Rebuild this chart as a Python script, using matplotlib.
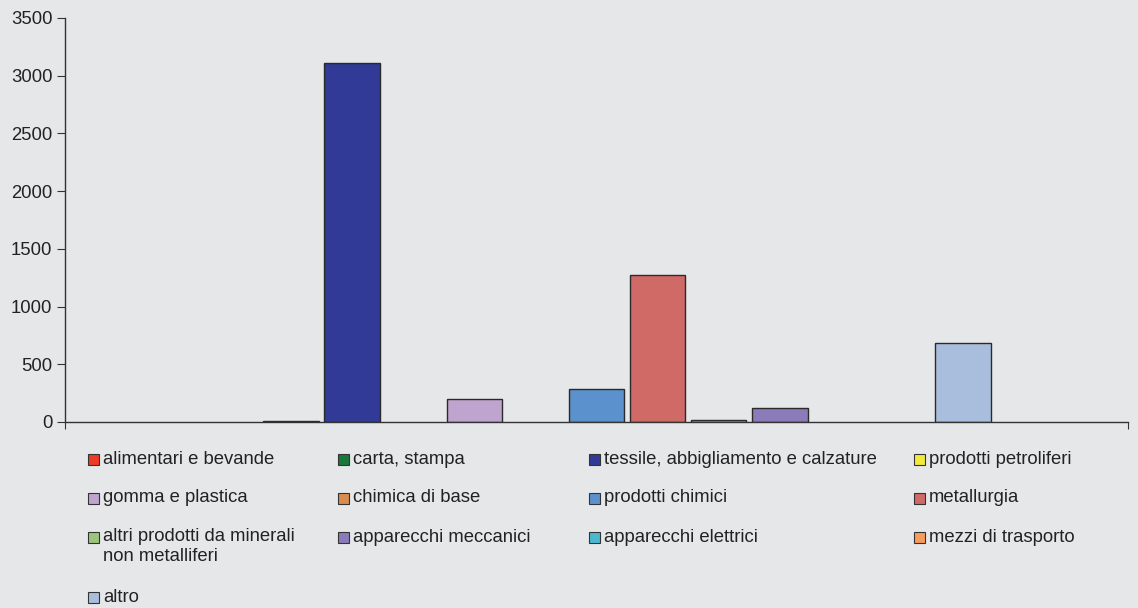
import matplotlib
matplotlib.use("Agg")
import matplotlib.pyplot as plt
from matplotlib.patches import Rectangle

plt.rcParams['font.family'] = ['Liberation Sans', 'DejaVu Sans']

# Data
categories = ["alimentari e bevande", "carta, stampa",
              "tessile, abbigliamento e calzature", "prodotti petroliferi",
              "gomma e plastica", "chimica di base", "prodotti chimici",
              "metallurgia", "altri prodotti da minerali\nnon metalliferi",
              "apparecchi meccanici", "apparecchi elettrici",
              "mezzi di trasporto", "altro"]
values = [0, 8, 3110, 0, 200, 0, 286, 1275, 17, 117, 0, 0, 687]
colors = ["#EE3A28", "#19773A", "#313A96", "#F2EA3A", "#BEA4CE", "#D98C52",
          "#5B92CD", "#D06A66", "#9CC47C", "#8B7BB8", "#4BB8D0", "#F89C5A",
          "#A9BEDD"]
yticks = [0, 500, 1000, 1500, 2000, 2500, 3000, 3500]

BG = "#E6E7E9"
W, H = 1138, 608
fig = plt.figure(figsize=(W/100, H/100), dpi=100, facecolor=BG)
ax = fig.add_axes([65/W, (H-422)/H, (1128-65)/W, (422-18)/H])
ax.set_facecolor(BG)

xs = list(range(len(values)))
# no outline for empty bars
lws = [1.0 if v > 0 else 0 for v in values]
ax.bar(xs, values, width=0.91, color=colors, edgecolor="#2a2a2a", linewidth=lws)

ax.set_xlim(-2.7, 14.7)
ax.set_ylim(0, 3500)
ax.set_yticks(yticks)
ax.set_xticks([-2.7, 14.7])
ax.set_xticklabels([])
for s in ["top", "right"]:
    ax.spines[s].set_visible(False)
for s in ["left", "bottom"]:
    ax.spines[s].set_color("#333333")
    ax.spines[s].set_linewidth(1.0)
ax.tick_params(axis="y", direction="out", length=6, color="#333333",
               labelsize=13.3, labelcolor="#222222", pad=3)
ax.tick_params(axis="x", direction="out", length=5, color="#333333")

# Legend drawn in rows of 4
col_x = [88, 338, 589, 914]
row_y = [459, 498, 537, 597]
sq = 11
for i, (lab, c) in enumerate(zip(categories, colors)):
    r, k = divmod(i, 4)
    x0, yc = col_x[k], row_y[r]
    fig.add_artist(Rectangle((x0/W, (H-yc-sq/2)/H), sq/W, sq/H,
                             transform=fig.transFigure, facecolor=c,
                             edgecolor="#333333", linewidth=0.8))
    if "\n" in lab:
        fig.text((x0+sq+4)/W, (H-yc+9)/H, lab, fontsize=13.3, color="#222222",
                 va="top", ha="left", linespacing=1.2)
    else:
        fig.text((x0+sq+4)/W, (H-yc)/H, lab, fontsize=13.3, color="#222222",
                 va="center", ha="left")

fig.savefig("out.png", dpi=100, facecolor=BG)
